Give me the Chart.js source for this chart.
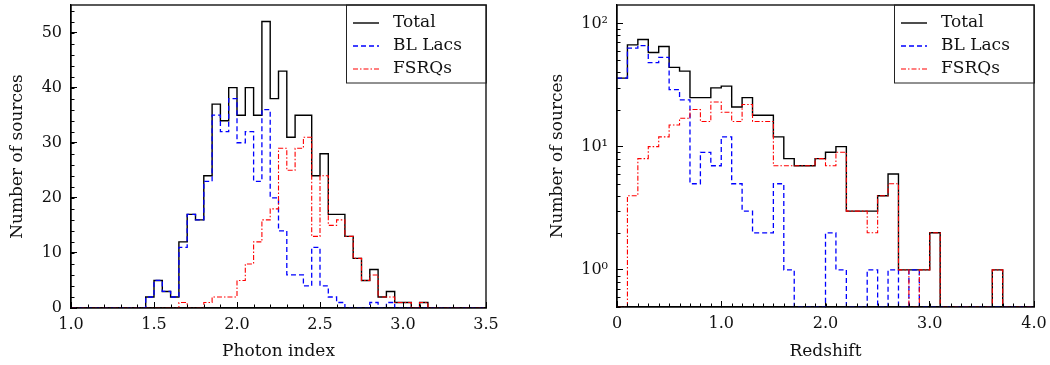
<!DOCTYPE html>
<html lang="en">
<head>
  <meta charset="UTF-8">
  <title>Photon index and redshift distributions</title>
  <script src="https://cdn.jsdelivr.net/npm/chart.js"></script>
  <style>
    body {
      margin: 0;
      background: #fff;
      width: 1050px;
      height: 365px;
      position: relative;
      overflow: hidden;
    }
    #photonChart { position: absolute; left: 0; top: 0; }
    #redshiftChart { position: absolute; left: 530px; top: 0; }
  </style>
</head>
<body>
  <canvas id="photonChart" width="500" height="365"></canvas>
  <canvas id="redshiftChart" width="520" height="365"></canvas>

  <script>
// photon index: 50 bins of 0.05 starting at 1.00
const photonStart = 1.0;
const photonWidth = 0.05;
const photonTotal = [0, 0, 0, 0, 0, 0, 0, 0, 0, 2, 5, 3, 2, 12, 17, 16, 24, 37, 34, 40, 35, 40, 35, 52, 38, 43, 31, 35, 35, 24, 28, 17, 17, 13, 9, 5, 7, 2, 3, 1, 1, 0, 1, 0, 0, 0, 0, 0, 0, 0];
const photonBL    = [0, 0, 0, 0, 0, 0, 0, 0, 0, 2, 5, 3, 2, 11, 17, 16, 23, 35, 32, 38, 30, 32, 23, 36, 20, 14, 6, 6, 4, 11, 4, 2, 1, 0, 0, 0, 1, 0, 1, 0, 0, 0, 0, 0, 0, 0, 0, 0, 0, 0];
const photonFSRQ  = [0, 0, 0, 0, 0, 0, 0, 0, 0, 0, 0, 0, 0, 1, 0, 0, 1, 2, 2, 2, 5, 8, 12, 16, 18, 29, 25, 29, 31, 13, 24, 15, 16, 13, 9, 5, 6, 2, 2, 1, 1, 0, 1, 0, 0, 0, 0, 0, 0, 0];

// redshift: 40 bins of 0.1 starting at 0
const zStart = 0;
const zWidth = 0.1;
const zTotal = [36, 67, 74, 58, 65, 44, 41, 25, 25, 30, 31, 21, 25, 18, 18, 12, 8, 7, 7, 8, 9, 10, 3, 3, 3, 4, 6, 1, 1, 1, 2, 0, 0, 0, 0, 0, 1, 0, 0, 0];
const zBL    = [36, 63, 66, 48, 53, 29, 24, 5, 9, 7, 12, 5, 3, 2, 2, 5, 1, 0, 0, 0, 2, 1, 0, 0, 1, 0, 1, 0, 1, 0, 0, 0, 0, 0, 0, 0, 0, 0, 0, 0];
const zFSRQ  = [0, 4, 8, 10, 12, 15, 17, 20, 16, 23, 19, 16, 22, 16, 16, 7, 7, 7, 7, 8, 7, 9, 3, 3, 2, 4, 5, 1, 0, 1, 2, 0, 0, 0, 0, 0, 1, 0, 0, 0];

const seriesNames = ['Total', 'BL Lacs', 'FSRQs'];
const photonTicks = [1.0, 1.5, 2.0, 2.5, 3.0, 3.5];
const countTicks = [0, 10, 20, 30, 40, 50];
const zTicks = [0, 1.0, 2.0, 3.0, 4.0];
const logTicks = [1, 10, 100];
const logLabels = ['10⁰', '10¹', '10²'];

const styles = [
  { color: '#000000', dash: [], width: 1.4 },
  { color: '#0000ff', dash: [5, 3], width: 1.3 },
  { color: '#ff0000', dash: [5, 2, 1.5, 2], width: 1.1 }
];

const serif = '"DejaVu Serif", serif';
const tickFont = { family: serif, size: 16 };
const titleFont = { family: serif, size: 17 };

// histogram outline as points for a stepped line
function stepPoints(counts, start, width, floor) {
  const pts = counts.map((c, i) => ({ x: start + i * width, y: c > 0 ? c : floor }));
  pts.push({ x: start + counts.length * width, y: pts[pts.length - 1].y });
  return pts;
}

function makeDatasets(series, start, width, floor) {
  return series.map((counts, i) => ({
    label: seriesNames[i],
    data: stepPoints(counts, start, width, floor),
    stepped: 'before',
    borderColor: styles[i].color,
    borderDash: styles[i].dash,
    borderWidth: styles[i].width,
    pointRadius: 0,
    fill: false,
    order: 3 - i
  }));
}

function range(a, b, step) {
  const out = [];
  for (let k = 0; a + k * step <= b + 1e-9; k++) out.push(+(a + k * step).toFixed(4));
  return out;
}

// no extra room for half tick labels at the ends
function fixBox(s, size) {
  if (s.isHorizontal()) s.height = size; else s.width = size;
  s.paddingTop = 0;
  s.paddingBottom = 0;
  s.paddingLeft = 0;
  s.paddingRight = 0;
}

// frame, minor ticks and the legend box inside the plot
const framePlugin = {
  id: 'frame',
  afterDraw(chart, args, opts) {
    const { ctx, chartArea: a, scales } = chart;
    ctx.save();
    ctx.setLineDash([]);
    ctx.strokeStyle = '#000';
    ctx.lineWidth = 1;
    ctx.beginPath();
    opts.xMinor.forEach(v => {
      const px = Math.round(scales.x.getPixelForValue(v)) + 0.5;
      ctx.moveTo(px, a.bottom);
      ctx.lineTo(px, a.bottom - 3.5);
    });
    opts.yMinor.forEach(v => {
      const py = Math.round(scales.y.getPixelForValue(v)) + 0.5;
      ctx.moveTo(a.left, py);
      ctx.lineTo(a.left + 3.5, py);
    });
    ctx.stroke();

    ctx.lineWidth = 1.3;
    ctx.strokeRect(a.left, a.top, a.right - a.left, a.bottom - a.top);

    // legend
    const boxLeft = a.right - 140;
    ctx.lineWidth = 1;
    ctx.strokeStyle = '#222';
    ctx.strokeRect(boxLeft + 0.5, a.top, a.right - boxLeft, 78);
    ctx.font = '17px ' + serif;
    ctx.textBaseline = 'middle';
    ctx.fillStyle = '#111';
    chart.data.datasets.forEach((ds, i) => {
      const y = a.top + 18 + 23 * i;
      ctx.strokeStyle = ds.borderColor;
      ctx.lineWidth = ds.borderWidth;
      ctx.setLineDash(ds.borderDash);
      ctx.beginPath();
      ctx.moveTo(boxLeft + 7, y);
      ctx.lineTo(boxLeft + 33, y);
      ctx.stroke();
      ctx.fillText(ds.label, boxLeft + 47, y);
    });
    ctx.restore();
  }
};

function axisX(min, max, ticks, label, height, fmt) {
  return {
    type: 'linear', min, max,
    afterBuildTicks: s => { s.ticks = ticks.map(v => ({ value: v })); },
    afterFit: s => fixBox(s, height),
    ticks: { callback: fmt, padding: 13, color: '#111', font: tickFont, maxRotation: 0, autoSkip: false },
    grid: { drawOnChartArea: false, tickLength: -6, color: '#000', lineWidth: 1 },
    border: { color: '#000', width: 1.3 },
    title: { display: true, text: label, font: titleFont, color: '#111', padding: { top: 0, bottom: 3 } }
  };
}

new Chart(document.getElementById('photonChart').getContext('2d'), {
  type: 'line',
  data: { datasets: makeDatasets([photonTotal, photonBL, photonFSRQ], photonStart, photonWidth, 0) },
  plugins: [framePlugin],
  options: {
    responsive: false,
    animation: false,
    layout: { padding: { top: 5, right: 14, left: 0, bottom: 0 } },
    plugins: {
      legend: { display: false },
      tooltip: { enabled: false },
      frame: { xMinor: range(1.0, 3.5, 0.1), yMinor: range(0, 54, 2) }
    },
    scales: {
      x: axisX(1.0, 3.5, photonTicks, 'Photon index', 57, v => v.toFixed(1)),
      y: {
        type: 'linear', min: 0, max: 55,
        afterBuildTicks: s => { s.ticks = countTicks.map(v => ({ value: v })); },
        afterFit: s => fixBox(s, 71),
        ticks: { padding: 15, color: '#111', font: tickFont },
        grid: { drawOnChartArea: false, tickLength: -6, color: '#000', lineWidth: 1 },
        border: { color: '#000', width: 1.3 },
        title: { display: true, text: 'Number of sources', font: titleFont, color: '#111', padding: { top: 7, bottom: 0 } }
      }
    }
  }
});

const logMinor = [];
[0.1, 1, 10, 100].forEach(p => {
  for (let m = 2; m <= 9; m++) {
    const v = m * p;
    if (v >= 0.5 && v <= 141) logMinor.push(v);
  }
});

new Chart(document.getElementById('redshiftChart').getContext('2d'), {
  type: 'line',
  data: { datasets: makeDatasets([zTotal, zBL, zFSRQ], zStart, zWidth, 0.5) },
  plugins: [framePlugin],
  options: {
    responsive: false,
    animation: false,
    layout: { padding: { top: 5, right: 16, left: 0, bottom: 0 } },
    plugins: {
      legend: { display: false },
      tooltip: { enabled: false },
      frame: { xMinor: range(0, 4.0, 0.1), yMinor: logMinor }
    },
    scales: {
      x: axisX(0, 4.0, zTicks, 'Redshift', 58, v => (v === 0 ? '0' : v.toFixed(1))),
      y: {
        type: 'logarithmic', min: 0.5, max: 141,
        afterBuildTicks: s => { s.ticks = logTicks.map(v => ({ value: v })); },
        afterFit: s => fixBox(s, 87),
        ticks: { callback: (v, i) => logLabels[i], padding: 15, color: '#111', font: tickFont },
        grid: { drawOnChartArea: false, tickLength: -6, color: '#000', lineWidth: 1 },
        border: { color: '#000', width: 1.3 },
        title: { display: true, text: 'Number of sources', font: titleFont, color: '#111', padding: { top: 17, bottom: 0 } }
      }
    }
  }
});
  </script>
</body>
</html>
